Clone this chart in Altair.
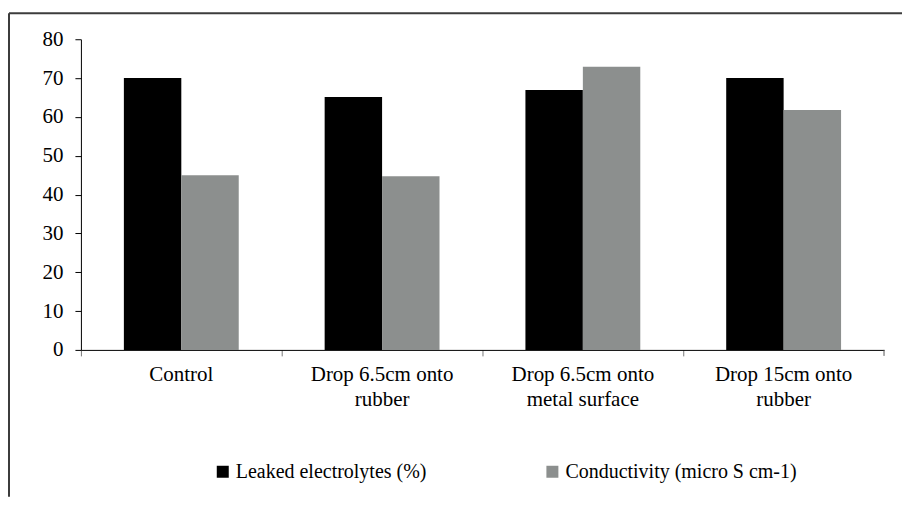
import altair as alt
import pandas as pd

categories = ["Control", "Drop 6.5cm onto\nrubber", "Drop 6.5cm onto\nmetal surface", "Drop 15cm onto\nrubber"]
series = ["Leaked electrolytes (%)", "Conductivity (micro S cm-1)"]
leaked = [70.0, 65.1, 66.9, 70.0]
conductivity = [45.0, 44.7, 72.9, 61.8]
colors = ["#000000", "#8c8f8e"]
y_ticks = [0, 10, 20, 30, 40, 50, 60, 70, 80]

rows = []
for c, a, b in zip(categories, leaked, conductivity):
    rows.append({"cat": c, "series": series[0], "value": a})
    rows.append({"cat": c, "series": series[1], "value": b})
df = pd.DataFrame(rows)

FONT = "Liberation Serif, Times New Roman, Times, serif"
W, H = 804, 311

bars = alt.Chart(df).mark_bar(strokeWidth=0).encode(
    x=alt.X("cat:N", sort=categories, title=None,
            scale=alt.Scale(paddingInner=0, paddingOuter=0),
            axis=alt.Axis(labelAngle=0, labelExpr="split(datum.label, '\\n')",
                          labelFont=FONT, labelFontSize=21, labelColor="#000",
                          labelLineHeight=25, labelPadding=8, bandPosition=0,
                          tickSize=6, tickColor="#777", domainColor="#000",
                          labelLimit=400)),
    xOffset=alt.XOffset("series:N", sort=series,
                        scale=alt.Scale(paddingInner=0, paddingOuter=0.748)),
    y=alt.Y("value:Q", title=None,
            scale=alt.Scale(domain=[0, 80], nice=False),
            axis=alt.Axis(values=y_ticks, grid=False, labelFont=FONT,
                          labelFontSize=21, labelColor="#000", tickSize=6,
                          tickColor="#000", domainColor="#000", labelPadding=12)),
    color=alt.Color("series:N", sort=series,
                    scale=alt.Scale(domain=series, range=colors),
                    legend=alt.Legend(title=None, orient="none", legendX=132, legendY=423,
                                      direction="horizontal", symbolType="square",
                                      symbolSize=144, symbolStrokeWidth=0,
                                      labelFont=FONT, labelFontSize=20, labelColor="#000",
                                      labelOffset=3, columnPadding=115, labelLimit=500,
                                      padding=0)),
)

one = alt.Data(values=[{}])
frame_top = alt.Chart(one).mark_rule(color="#3c3c3c", strokeWidth=2).encode(
    x=alt.value(-72), x2=alt.value(822), y=alt.value(-26))
frame_left = alt.Chart(one).mark_rule(color="#3c3c3c", strokeWidth=2).encode(
    x=alt.value(-72), y=alt.value(-26), y2=alt.value(458))
end_tick = alt.Chart(one).mark_rule(color="#555", strokeWidth=1).encode(
    x=alt.value(W), y=alt.value(H), y2=alt.value(H + 6))

chart = alt.layer(frame_top, frame_left, bars, end_tick).properties(
    width=W, height=H, padding={"top": 4, "left": 0, "right": 0, "bottom": 0}
).configure_view(stroke=None).configure_axis(domainWidth=1)

chart.save("out.html", embed_options={"renderer": "svg", "actions": False})
